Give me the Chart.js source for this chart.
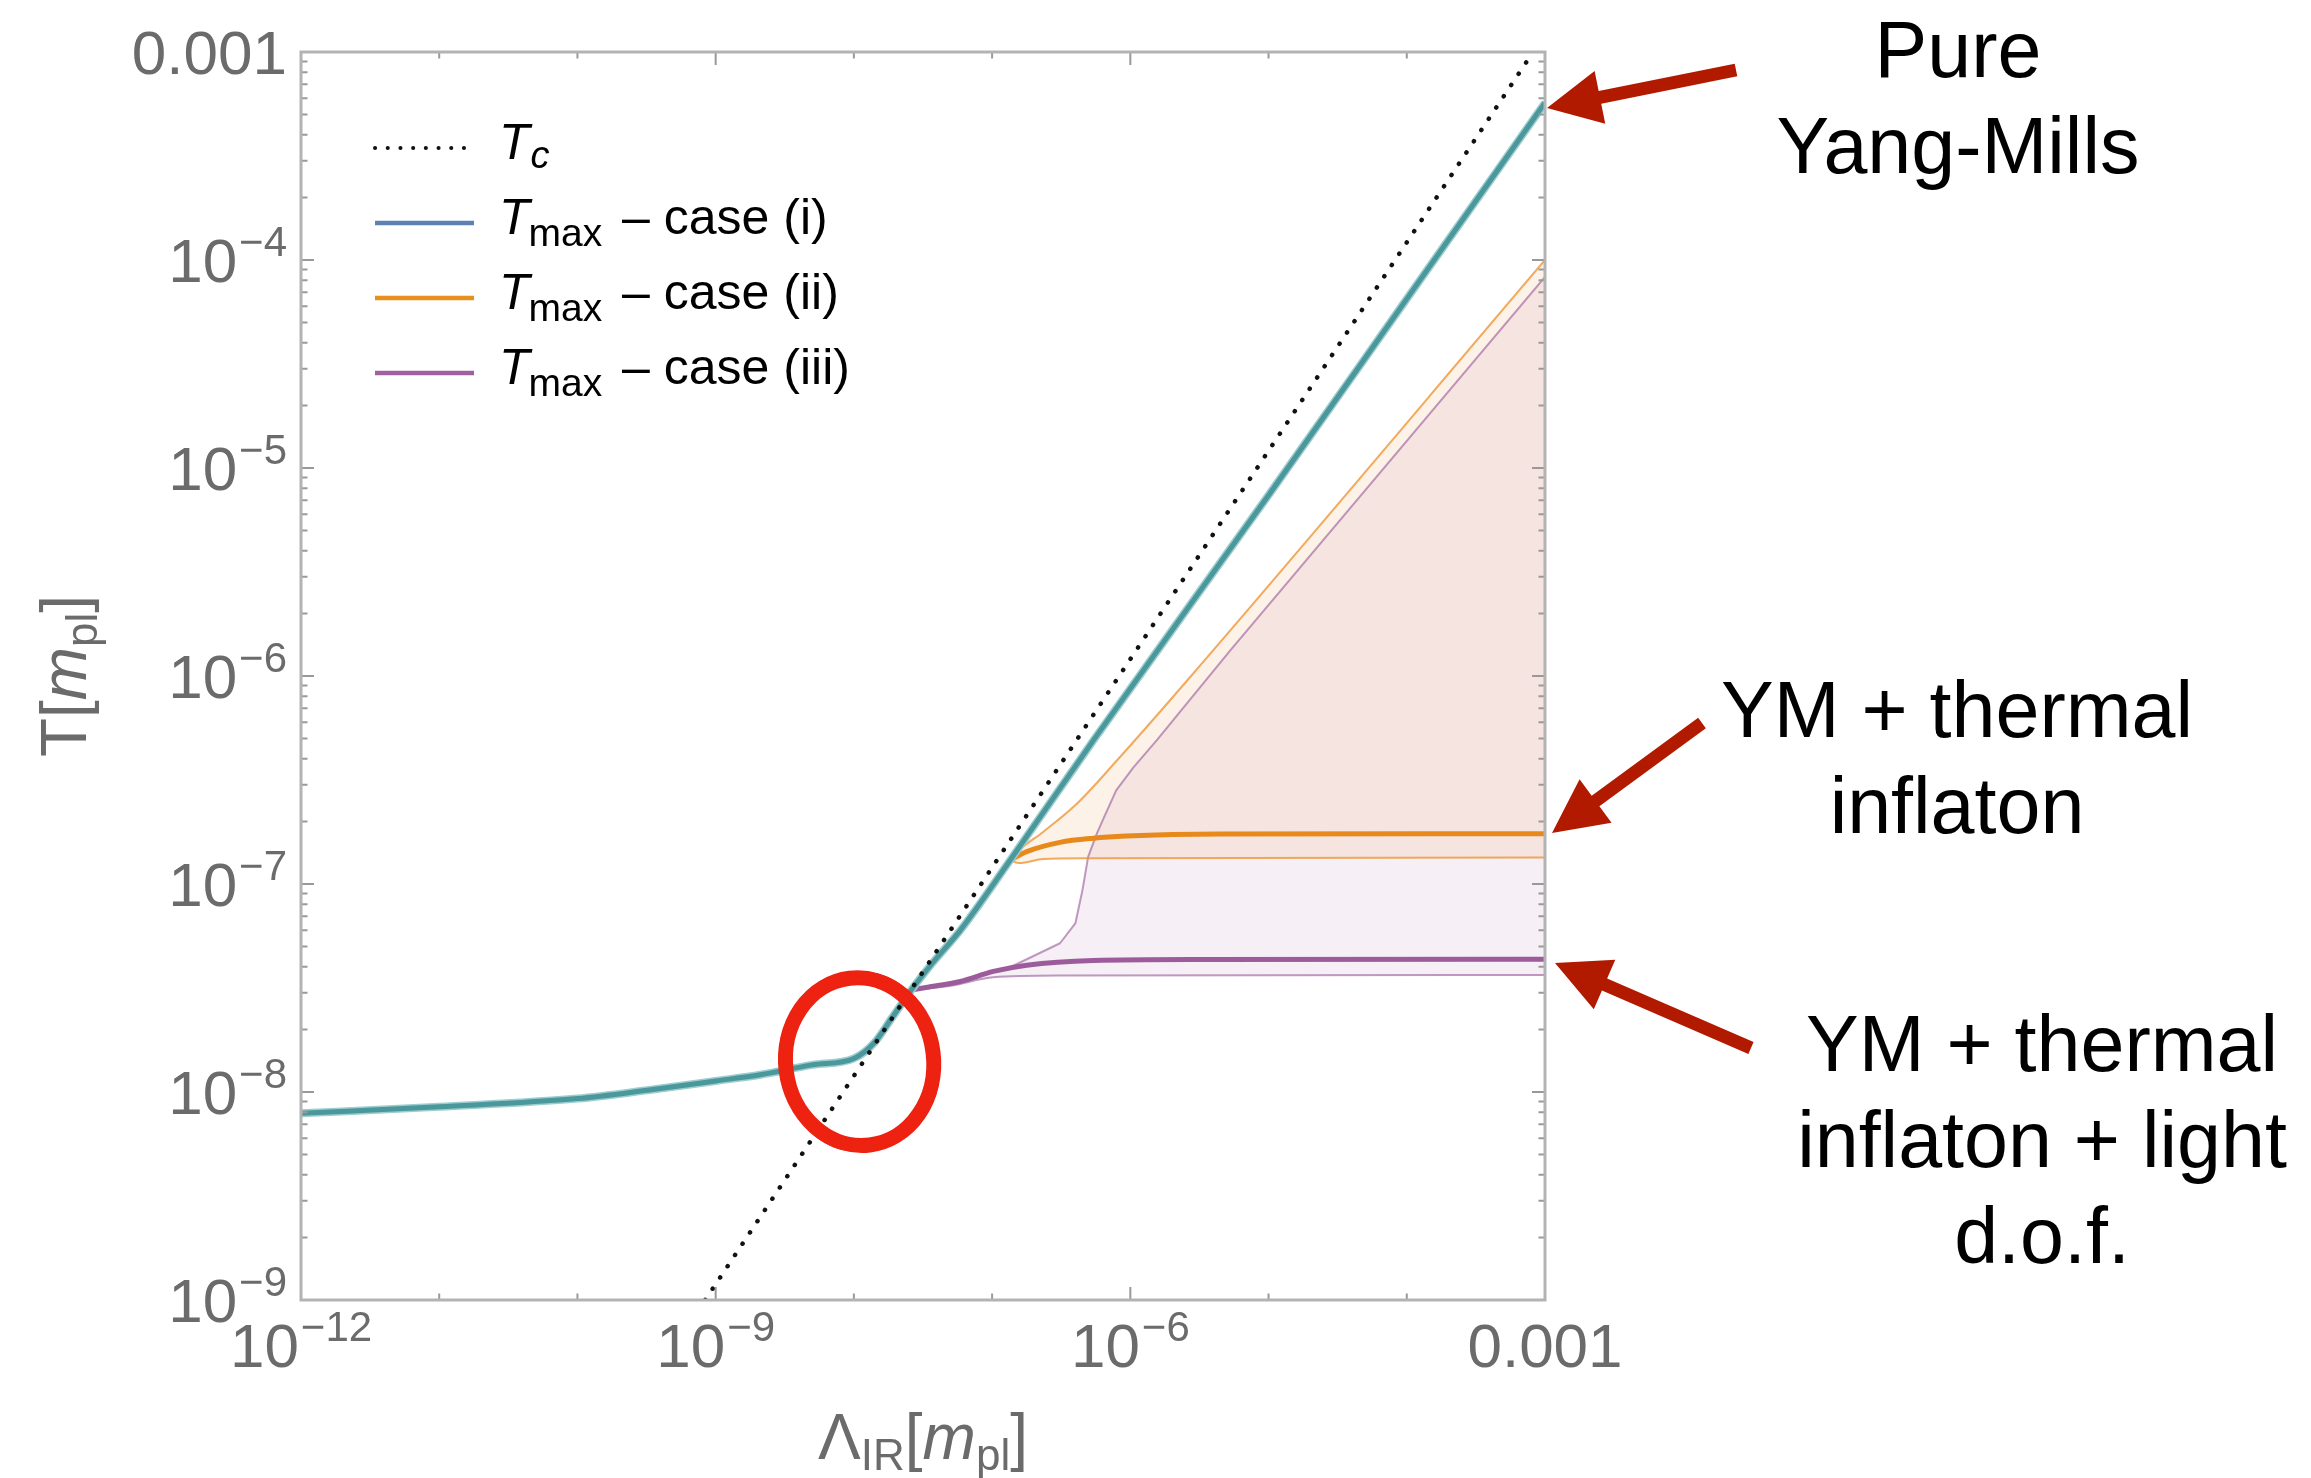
<!DOCTYPE html>
<html>
<head>
<meta charset="utf-8">
<title>T_max versus Lambda_IR</title>
<script src="https://cdn.jsdelivr.net/npm/chart.js@4.4.1/dist/chart.umd.min.js"></script>
<style>
  html, body { margin: 0; padding: 0; background: #fff; }
  canvas { display: block; }
</style>
</head>
<body>
<canvas id="chart" width="2311" height="1478" style="width:2311px;height:1478px"></canvas>
<script>
// ---- data (Lambda_IR and T in units of m_pl) ----

// critical temperature, dotted straight line
const tcLambda = [8.4e-10, 8.2e-4];
const tcT = [1e-9, 1e-3];

// case (i): pure Yang-Mills
const lambdaI = [1e-12, 1e-11, 1e-10, 3.2e-10, 1e-9, 2.1e-9, 5e-9, 1e-8, 1.4e-8, 1.9e-8, 2.6e-8, 3.7e-8, 5.9e-8, 1.35e-7, 5.4e-7, 1e-5, 1e-4, 1e-3];
const tmaxI = [7.9e-9, 8.5e-9, 9.3e-9, 1.02e-8, 1.13e-8, 1.21e-8, 1.35e-8, 1.45e-8, 1.72e-8, 2.29e-8, 3.09e-8, 4.17e-8, 6.0e-8, 1.30e-7, 4.9e-7, 7.4e-6, 6.5e-5, 5.7e-4];

// case (ii): YM + thermal inflaton (central line from where it leaves case (i), and band edges)
const lambdaII = [1.35e-7, 1.78e-7, 3.1e-7, 5.4e-7, 9.3e-7, 4.5e-6, 1e-3];
const tmaxII = [1.30e-7, 1.43e-7, 1.585e-7, 1.66e-7, 1.70e-7, 1.74e-7, 1.745e-7];
const lambdaIIhi = [1.35e-7, 1.58e-7, 2.34e-7, 4.1e-7, 7.9e-7, 2.75e-6, 1e-3];
const tmaxIIhi = [1.30e-7, 1.46e-7, 1.78e-7, 2.43e-7, 3.89e-7, 1.0e-6, 1.0e-4];
const lambdaIIlo = [1.35e-7, 1.58e-7, 2.34e-7, 5e-7, 1e-3];
const tmaxIIlo = [1.30e-7, 1.26e-7, 1.32e-7, 1.33e-7, 1.34e-7];

// case (iii): YM + thermal inflaton + light d.o.f.
const lambdaIII = [2.6e-8, 3.5e-8, 5.9e-8, 1.02e-7, 1.78e-7, 5.4e-7, 3.2e-6, 1e-3];
const tmaxIII = [3.09e-8, 3.2e-8, 3.4e-8, 3.8e-8, 4.07e-8, 4.29e-8, 4.34e-8, 4.35e-8];
const lambdaIIIhi = [2.6e-8, 5.9e-8, 1.35e-7, 3.1e-7, 4.0e-7, 4.5e-7, 4.95e-7, 5.75e-7, 6.45e-7, 7.9e-7, 1.05e-6, 1.55e-6, 5.25e-6, 1e-3];
const tmaxIIIhi = [3.09e-8, 3.4e-8, 3.98e-8, 5.19e-8, 6.46e-8, 9.3e-8, 1.35e-7, 1.76e-7, 2.09e-7, 2.82e-7, 3.63e-7, 4.9e-7, 1.32e-6, 8.3e-5];
const lambdaIIIlo = [2.6e-8, 5e-8, 1.02e-7, 3.2e-7, 1e-3];
const tmaxIIIlo = [3.09e-8, 3.24e-8, 3.56e-8, 3.63e-8, 3.65e-8];

// axis ticks
const xTickValues = [1e-12, 1e-9, 1e-6, 1e-3];
const xTickLabels = ["10^\u221212", "10^\u22129", "10^\u22126", "0.001"];
const yTickValues = [1e-9, 1e-8, 1e-7, 1e-6, 1e-5, 1e-4, 1e-3];
const yTickLabels = ["10^\u22129", "10^\u22128", "10^\u22127", "10^\u22126", "10^\u22125", "10^\u22124", "0.001"];

// legend entries: [italic symbol, subscript, rest of label]
const legendItems = [
  ["T", "c", ""],
  ["T", "max", " \u2013 case (i)"],
  ["T", "max", " \u2013 case (ii)"],
  ["T", "max", " \u2013 case (iii)"]
];

// annotation texts on the right
const noteYM = ["Pure", "Yang-Mills"];
const noteInflaton = ["YM + thermal", "inflaton"];
const noteLight = ["YM + thermal", "inflaton + light", "d.o.f."];

// the hand-drawn circle around the kink, centre in data units
const circleCentre = { x: 1.1e-8, y: 1.4e-8 };

// ---- styling ----
const FONT = "'Liberation Sans', Arial, Helvetica, sans-serif";
const AXIS_GREY = "#6b6b6b";
const TEAL = "#4b989c";
const TEAL_HALO = "#9ccdcf";
const ORANGE = "#e8891c";
const PURPLE = "#9c5c9c";
const ORANGE_THIN = "rgba(238,150,55,0.8)";
const PURPLE_THIN = "rgba(165,110,165,0.7)";
const ORANGE_FILL = "rgba(240,150,60,0.12)";
const PURPLE_FILL = "rgba(150,80,150,0.09)";
const ARROW_RED = "#b21a00";
const legendColors = ["#111111", "#5e81b5", "#e8901e", "#a0609e"];

const pts = (xs, ys) => xs.map((x, i) => ({ x, y: ys[i] }));

function line(label, xs, ys, color, width, order, extra) {
  return Object.assign({
    label, data: pts(xs, ys), borderColor: color, borderWidth: width,
    pointRadius: 0, fill: false, tension: 0, order, clip: 0,
    borderJoinStyle: "round", borderCapStyle: "butt"
  }, extra || {});
}

const smooth = { cubicInterpolationMode: "monotone" };

const datasets = [
  line("iii upper", lambdaIIIhi, tmaxIIIhi, PURPLE_THIN, 2, 8, { fill: 1, backgroundColor: PURPLE_FILL }), // 0
  line("iii lower", lambdaIIIlo, tmaxIIIlo, PURPLE_THIN, 2, 8, smooth),                                 // 1
  line("ii upper", lambdaIIhi, tmaxIIhi, ORANGE_THIN, 2, 7, { fill: 3, backgroundColor: ORANGE_FILL, cubicInterpolationMode: "monotone" }), // 2
  line("ii lower", lambdaIIlo, tmaxIIlo, ORANGE_THIN, 2, 7, smooth),                                    // 3
  line("case (iii)", lambdaIII, tmaxIII, PURPLE, 5, 5, smooth),
  line("case (ii)", lambdaII, tmaxII, ORANGE, 5, 4, smooth),
  line("case (i) band", lambdaI, tmaxI, TEAL_HALO, 8, 3, smooth),
  line("case (i)", lambdaI, tmaxI, TEAL, 5, 2, smooth),
  line("Tc", tcLambda, tcT, "#111111", 4.5, 1, { borderDash: [0.1, 13.4], borderCapStyle: "round" })
];

// ---- drawing helpers ----
function drawPieces(ctx, pieces, x, y, align) {
  let w = 0;
  pieces.forEach(p => { ctx.font = p.font; p.w = ctx.measureText(p.t).width; w += p.w + (p.gap || 0); });
  let cx = align === "right" ? x - w : align === "center" ? x - w / 2 : x;
  ctx.textAlign = "left";
  pieces.forEach(p => {
    ctx.font = p.font;
    ctx.fillText(p.t, cx, y + (p.dy || 0));
    cx += p.w + (p.gap || 0);
  });
}

function tickPieces(label) {
  if (label.indexOf("^") < 0) return [{ t: label, font: `62px ${FONT}` }];
  const [b, e] = label.split("^");
  return [{ t: b, font: `62px ${FONT}`, gap: 2 }, { t: e, font: `42px ${FONT}`, dy: -26 }];
}

function drawArrow(ctx, tail, tip) {
  const shaft = 13, headL = 54, headW = 54;
  const dx = tail[0] - tip[0], dy = tail[1] - tip[1];
  const len = Math.hypot(dx, dy);
  const ux = dx / len, uy = dy / len, nx = -uy, ny = ux;
  const bx = tip[0] + ux * headL, by = tip[1] + uy * headL;
  ctx.beginPath();
  ctx.moveTo(tip[0], tip[1]);
  ctx.lineTo(bx + nx * headW / 2, by + ny * headW / 2);
  ctx.lineTo(bx + nx * shaft / 2, by + ny * shaft / 2);
  ctx.lineTo(tail[0] + nx * shaft / 2, tail[1] + ny * shaft / 2);
  ctx.lineTo(tail[0] - nx * shaft / 2, tail[1] - ny * shaft / 2);
  ctx.lineTo(bx - nx * shaft / 2, by - ny * shaft / 2);
  ctx.lineTo(bx - nx * headW / 2, by - ny * headW / 2);
  ctx.closePath();
  ctx.fillStyle = ARROW_RED;
  ctx.fill();
}

function drawNote(ctx, lines, cx, firstBaseline) {
  ctx.font = `79px ${FONT}`;
  ctx.fillStyle = "#000";
  ctx.textAlign = "center";
  lines.forEach((t, i) => ctx.fillText(t, cx, firstBaseline + i * 96));
}

const backgroundPlugin = {
  id: "whiteBg",
  beforeDraw(chart) {
    const ctx = chart.ctx;
    ctx.save();
    ctx.fillStyle = "#fff";
    ctx.fillRect(0, 0, chart.width, chart.height);
    ctx.restore();
  }
};

const framePlugin = {
  id: "mathematicaFrame",
  afterDraw(chart) {
    const ctx = chart.ctx;
    const { left, right, top, bottom } = chart.chartArea;
    const xs = chart.scales.x, ys = chart.scales.y;
    ctx.save();

    // ticks on all four sides, pointing inwards
    ctx.strokeStyle = "#999";
    ctx.lineWidth = 2;
    ctx.beginPath();
    for (let e = -12; e <= -3; e++) {
      const px = xs.getPixelForValue(Math.pow(10, e));
      const L = xTickValues.some(v => Math.abs(Math.log10(v) - e) < 1e-9) ? 13 : 6.5;
      ctx.moveTo(px, bottom); ctx.lineTo(px, bottom - L);
      ctx.moveTo(px, top); ctx.lineTo(px, top + L);
    }
    for (let e = -9; e <= -3; e++) {
      for (let k = 1; k <= 9; k++) {
        const v = k * Math.pow(10, e);
        if (v > 1.0001e-3) break;
        const py = ys.getPixelForValue(v);
        const L = k === 1 ? 13 : 6.5;
        ctx.moveTo(left, py); ctx.lineTo(left + L, py);
        ctx.moveTo(right, py); ctx.lineTo(right - L, py);
      }
    }
    ctx.stroke();

    // frame
    ctx.strokeStyle = "#b3b3b3";
    ctx.lineWidth = 3;
    ctx.strokeRect(left, top, right - left, bottom - top);

    // tick labels
    ctx.fillStyle = AXIS_GREY;
    ctx.textBaseline = "alphabetic";
    yTickValues.forEach((v, i) => {
      drawPieces(ctx, tickPieces(yTickLabels[i]), left - 14, ys.getPixelForValue(v) + 22, "right");
    });
    xTickValues.forEach((v, i) => {
      drawPieces(ctx, tickPieces(xTickLabels[i]), xs.getPixelForValue(v), bottom + 67, "center");
    });

    // axis titles
    const big = `64px ${FONT}`, bigIt = `italic 64px ${FONT}`, sub = `44px ${FONT}`;
    drawPieces(ctx, [
      { t: "\u039b", font: big }, { t: "IR", font: sub, dy: 11 }, { t: "[", font: big },
      { t: "m", font: bigIt }, { t: "pl", font: sub, dy: 11 }, { t: "]", font: big }
    ], (left + right) / 2, bottom + 159, "center");
    ctx.save();
    ctx.translate(86, (top + bottom) / 2);
    ctx.rotate(-Math.PI / 2);
    drawPieces(ctx, [
      { t: "T", font: big }, { t: "[", font: big }, { t: "m", font: bigIt },
      { t: "pl", font: sub, dy: 11 }, { t: "]", font: big }
    ], 0, 0, "center");
    ctx.restore();

    // legend
    legendItems.forEach((item, i) => {
      const y = 148 + i * 75;
      ctx.beginPath();
      ctx.strokeStyle = legendColors[i];
      if (i === 0) {
        ctx.setLineDash([0.1, 12.6]);
        ctx.lineCap = "round";
        ctx.lineWidth = 4;
      } else {
        ctx.setLineDash([]);
        ctx.lineCap = "butt";
        ctx.lineWidth = 4.5;
      }
      ctx.moveTo(375, y); ctx.lineTo(474, y);
      ctx.stroke();
      ctx.setLineDash([]);
      ctx.fillStyle = "#000";
      const subFont = i === 0 ? `italic 38px ${FONT}` : `39px ${FONT}`;
      drawPieces(ctx, [
        { t: item[0], font: `italic 50px ${FONT}`, gap: i === 0 ? 1 : -1 },
        { t: item[1], font: subFont, dy: i === 0 ? 9 : 12, gap: i === 0 ? 0 : 6 },
        { t: item[2], font: `50px ${FONT}` }
      ], 499, y + 11, "left");
    });

    // red hand-drawn circle
    const cx = xs.getPixelForValue(circleCentre.x), cy = ys.getPixelForValue(circleCentre.y);
    ctx.strokeStyle = "#ee2211";
    ctx.lineCap = "round";
    [[74, 84, -0.12, 15], [77, 86, -0.2, 7], [71, 82, -0.05, 7], [75, 88, 0.04, 5], [78, 83, -0.3, 4]].forEach(([rx, ry, rot, w]) => {
      ctx.beginPath();
      ctx.lineWidth = w;
      ctx.ellipse(cx, cy, rx, ry, rot, 0, Math.PI * 2);
      ctx.stroke();
    });

    // annotations and arrows
    drawNote(ctx, noteYM, 1958, 77);
    drawNote(ctx, noteInflaton, 1957, 737);
    drawNote(ctx, noteLight, 2042, 1071);
    drawArrow(ctx, [1736, 70], [1547, 108]);
    drawArrow(ctx, [1702, 723], [1552, 833]);
    drawArrow(ctx, [1751, 1048], [1555, 963]);

    ctx.restore();
  }
};

new Chart(document.getElementById("chart"), {
  type: "line",
  data: { datasets },
  options: {
    responsive: false,
    devicePixelRatio: 1,
    animation: false,
    events: [],
    layout: { padding: { left: 301, top: 52, right: 766, bottom: 178 } },
    plugins: {
      legend: { display: false },
      tooltip: { enabled: false },
      filler: { drawTime: "beforeDatasetsDraw" }
    },
    scales: {
      x: { type: "logarithmic", min: 1e-12, max: 1e-3, display: false },
      y: { type: "logarithmic", min: 1e-9, max: 1e-3, display: false }
    }
  },
  plugins: [backgroundPlugin, framePlugin]
});
</script>
</body>
</html>
